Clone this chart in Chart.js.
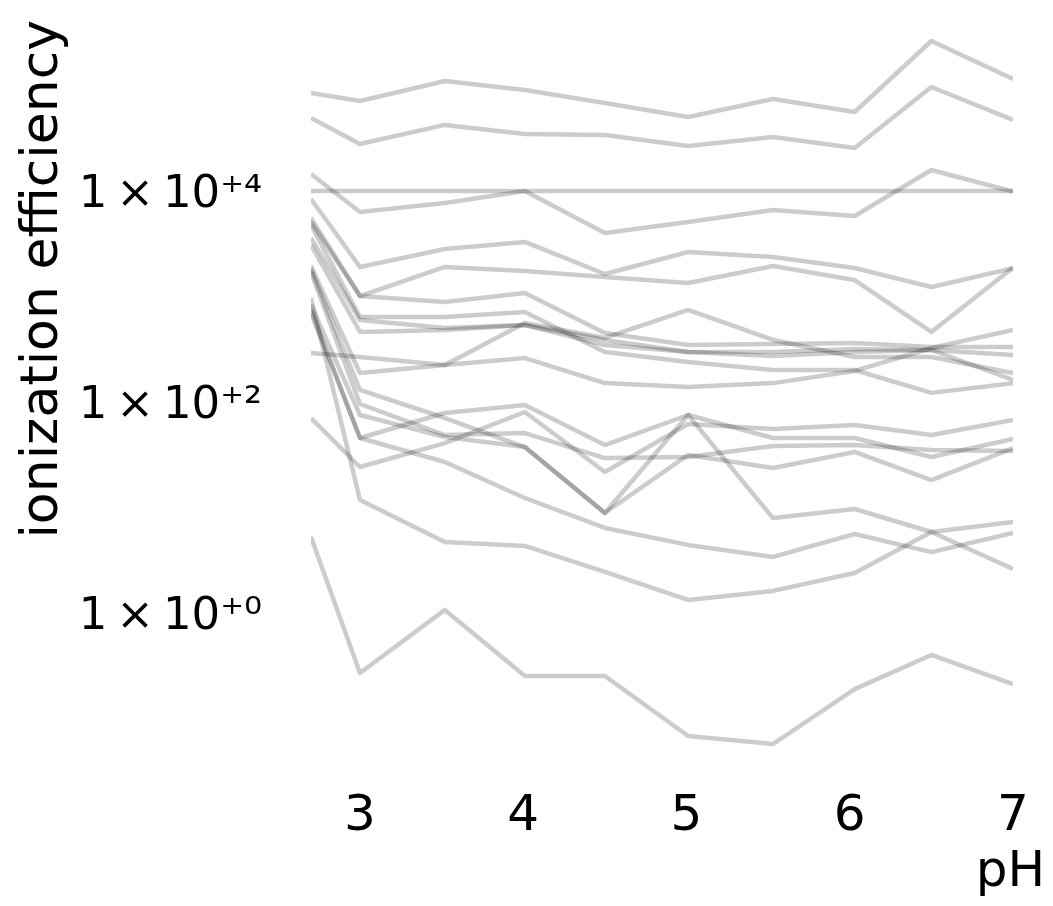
<!DOCTYPE html>
<html><head><meta charset="utf-8">
<script src="https://cdn.jsdelivr.net/npm/chart.js@4.4.1/dist/chart.umd.min.js"></script>
<style>html,body{margin:0;padding:0;background:#fff;}#wrap{width:1053px;height:906px;}</style>
</head><body><div id="wrap"><canvas id="c" width="1053" height="906"></canvas></div>
<script>
// pH values (x)
const pH = [2.7, 3.0, 3.52, 4.01, 4.5, 5.01, 5.53, 6.03, 6.5, 7.0];
// ionization efficiency series
const s01 = [84900, 71300, 110400, 90600, 68200, 50200, 74500, 56100, 264000, 115300];
const s02 = [49200, 27900, 42300, 34700, 34000, 26700, 32500, 25600, 96800, 47100];
const s03 = [10000, 10000, 10000, 10000, 10000, 10000, 10000, 10000, 10000, 10000];
const s04 = [14500, 6320, 7690, 10000, 4000, 5080, 6610, 5790, 15800, 9900];
const s05 = [8400, 1905, 2820, 3290, 1633, 2640, 2370, 1862, 1230, 1850];
const s06 = [5550, 1010, 1905, 1746, 1531, 1343, 1945, 1432, 461, 1880];
const s07 = [5080, 1010, 887, 1080, 451, 347, 355, 362, 332, 332];
const s08 = [4760, 640, 640, 713, 298, 239, 201, 201, 122, 151];
const s09 = [3590, 598, 502, 537, 387, 298, 298, 318, 311, 279];
const s10 = [3080, 461, 481, 537, 347, 298, 273, 298, 311, 162];
const s11 = [1945, 188, 224, 561, 405, 745, 387, 267, 267, 188];
const s12 = [1824, 130, 70.5, 37.4, 8.87, 75.3, 7.94, 9.68, 5.86, 2.61];
const s13 = [1706, 95.7, 48.6, 50.8, 29.4, 30.1, 38.3, 39.1, 35.1, 34.4];
const s14 = [968, 11.8, 4.71, 4.32, 2.45, 1.33, 1.62, 2.39, 5.86, 7.29];
const s15 = [830, 75.3, 46.6, 37.4, 8.87, 31.5, 23.7, 33.6, 18.2, 36.6];
const s16 = [698, 45.6, 78.7, 93.7, 39.1, 75.3, 45.6, 45.6, 30.1, 44.6];
const s17 = [745, 45.6, 27.0, 12.3, 6.40, 4.42, 3.40, 5.61, 3.78, 5.73];
const s18 = [291, 267, 224, 261, 151, 139, 151, 197, 325, 481];
const s19 = [70.5, 24.2, 40.8, 80.4, 21.7, 61.8, 55.5, 60.5, 48.6, 67.5];
const s20 = [5.25, 0.270, 1.07, 0.253, 0.253, 0.0682, 0.0573, 0.190, 0.400, 0.212];
const allSeries = [s01,s02,s03,s04,s05,s06,s07,s08,s09,s10,s11,s12,s13,s14,s15,s16,s17,s18,s19,s20];

// tick labels
const xTickValues = [3, 4, 5, 6, 7];
const yTickValues = [1, 100, 10000];
const yTickLabels = ['1\u2009×\u200910\u207A\u2070', '1\u2009×\u200910\u207A\u00B2', '1\u2009×\u200910\u207A\u2074'];
const xTitle = 'pH';
const yTitle = 'ionization efficiency';

const FONT = "'DejaVu Sans', sans-serif";
const datasets = allSeries.map((s, i) => ({
  label: 'compound ' + (i + 1),
  data: s.map((v, j) => ({x: pH[j], y: v})),
  borderColor: 'rgba(0,0,0,0.2)',
  borderWidth: 4.5,
  pointRadius: 0,
  tension: 0,
  fill: false,
  borderJoinStyle: 'round'
}));

new Chart(document.getElementById('c'), {
  type: 'line',
  data: {datasets},
  options: {
    responsive: false,
    devicePixelRatio: 1,
    animation: false,
    layout: {padding: {left: 0, right: 8, top: 20, bottom: 3}},
    plugins: {
      legend: {display: false},
      tooltip: {enabled: false},
      title: {display: true, text: xTitle, position: 'bottom', align: 'end',
        color: '#000', font: {family: FONT, size: 50, weight: 'normal', lineHeight: 1.2},
        padding: {top: 0, bottom: 0}}
    },
    scales: {
      x: {
        type: 'linear', min: 2.7, max: 7,
        grid: {display: false, drawTicks: false},
        border: {display: false},
        afterBuildTicks: s => { s.ticks = xTickValues.map(v => ({value: v})); },
        ticks: {color: '#000', font: {family: FONT, size: 50}, padding: 17,
          callback: v => String(v)},
        afterFit: s => { s.height = 73; s.paddingLeft = 0; s.paddingRight = 0; }
      },
      y: {
        type: 'logarithmic', position: 'left',
        min: 0.03249, max: 417700,
        grid: {display: false, drawTicks: false},
        border: {display: false},
        afterBuildTicks: s => { s.ticks = yTickValues.map(v => ({value: v})); },
        ticks: {color: '#000', font: {family: FONT, size: 45}, padding: 49, labelOffset: 4,
          callback: (v) => { const i = yTickValues.indexOf(v); return i >= 0 ? yTickLabels[i] : ''; }},
        title: {display: true, text: yTitle, align: 'end', color: '#000',
          font: {family: FONT, size: 52, weight: 'normal', lineHeight: 1.2},
          padding: {top: 12, bottom: 0}},
        afterFit: s => { s.width = 311; s.paddingTop = 0; s.paddingBottom = 0; }
      },
      yr: {
        type: 'linear', axis: 'y', position: 'right', display: true,
        grid: {display: false, drawTicks: false},
        border: {display: false},
        ticks: {display: false},
        afterFit: s => { s.width = 32; s.paddingTop = 0; s.paddingBottom = 0; }
      }
    }
  }
});
</script></body></html>
